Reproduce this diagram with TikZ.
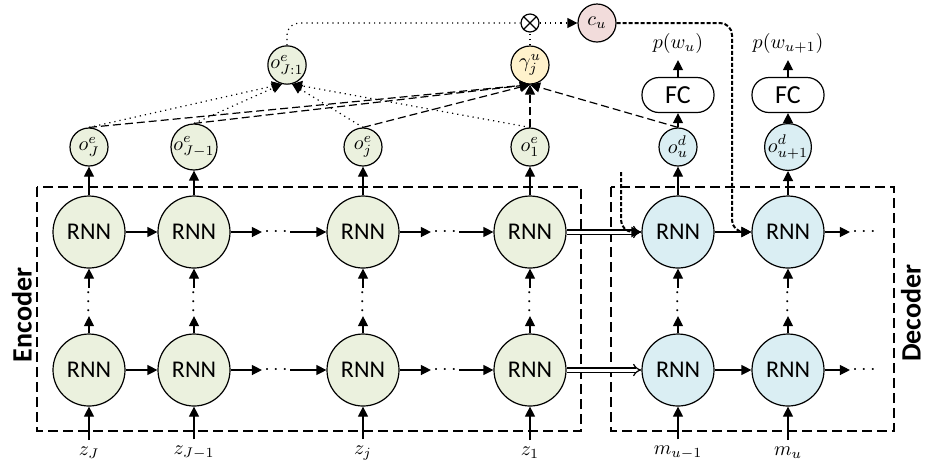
\documentclass[tikz,border=0pt]{standalone}
\usepackage{fontspec}
\setsansfont{Carlito}
\usetikzlibrary{arrows.meta,positioning}

\definecolor{encfill}{HTML}{EBF1DE}
\definecolor{decfill}{HTML}{DAEEF3}
\definecolor{attfill}{HTML}{FFF2CC}
\definecolor{ctxfill}{HTML}{F2DCDB}

\begin{document}
\begin{tikzpicture}[x=0.5pt,y=-0.5pt,
  rnn/.style={circle,draw,semithick,minimum size=36pt,inner sep=0pt,font=\sffamily\fontsize{12}{14}\selectfont},
  outc/.style={circle,draw,semithick,minimum size=19pt,inner sep=0pt},
  fc/.style={draw,semithick,rounded corners=8.5pt,minimum width=36pt,minimum height=17.5pt,font=\sffamily\fontsize{13}{15}\selectfont},
  dots/.style={inner sep=1pt},
  arr/.style={semithick,-{Triangle[length=5pt,width=5pt]}},
  dotarr/.style={arr,dotted},
  dasharr/.style={arr,dash pattern=on 4pt off 2pt},
  ctxarr/.style={line width=1pt,dash pattern=on 2pt off 1pt,rounded corners=6pt,-{Triangle[length=5pt,width=5pt]}},
  dblarr/.style={semithick,double,double distance=1.5pt,-{Implies[scale=1.4]}},
  boxline/.style={semithick,dash pattern=on 5pt off 2.5pt},
  side/.style={rotate=90,font=\sffamily\bfseries\fontsize{14}{16}\selectfont}
]
\useasboundingbox (0,0) rectangle (926,463);

% encoder and decoder frames
\draw[boxline] (37,187) rectangle (581,431);
\draw[boxline] (611,187) rectangle (894,431);
\node[side] (enc) at (22,315) {Encoder};
\node[side] (dec) at (911,313) {Decoder};

% encoder cells
\node[rnn,fill=encfill] (e1t) at (89,232) {RNN};
\node[rnn,fill=encfill] (e2t) at (194,232) {RNN};
\node[rnn,fill=encfill] (e3t) at (363,232) {RNN};
\node[rnn,fill=encfill] (e4t) at (530,232) {RNN};
\node[rnn,fill=encfill] (e1b) at (89,370) {RNN};
\node[rnn,fill=encfill] (e2b) at (194,370) {RNN};
\node[rnn,fill=encfill] (e3b) at (363,370) {RNN};
\node[rnn,fill=encfill] (e4b) at (530,370) {RNN};

% decoder cells
\node[rnn,fill=decfill] (d1t) at (678,232) {RNN};
\node[rnn,fill=decfill] (d2t) at (788,232) {RNN};
\node[rnn,fill=decfill] (d1b) at (678,370) {RNN};
\node[rnn,fill=decfill] (d2b) at (788,370) {RNN};

% dots
\node[dots] (h1t) at (276,232) {$\cdots$};
\node[dots] (h2t) at (445,232) {$\cdots$};
\node[dots] (h3t) at (864,232) {$\cdots$};
\node[dots] (h1b) at (276,370) {$\cdots$};
\node[dots] (h2b) at (445,370) {$\cdots$};
\node[dots] (h3b) at (864,370) {$\cdots$};
\node[dots,rotate=90] (v1) at (89,302) {$\cdots$};
\node[dots,rotate=90] (v2) at (194,302) {$\cdots$};
\node[dots,rotate=90] (v3) at (363,302) {$\cdots$};
\node[dots,rotate=90] (v4) at (530,302) {$\cdots$};
\node[dots,rotate=90] (v5) at (678,302) {$\cdots$};
\node[dots,rotate=90] (v6) at (788,302) {$\cdots$};

% inputs
\node (z1) at (89,453) {$z_J$};
\node (z2) at (194,453) {$z_{J-1}$};
\node (z3) at (363,453) {$z_j$};
\node (z4) at (530,453) {$z_1$};
\node (m1) at (678,453) {$m_{u-1}$};
\node (m2) at (788,453) {$m_u$};

% outputs
\node[outc,fill=encfill] (o1) at (89,147) {$o^e_J$};
\node[outc,fill=encfill] (o2) at (194,147) {$o^e_{J-1}$};
\node[outc,fill=encfill] (o3) at (363,147) {$o^e_j$};
\node[outc,fill=encfill] (o4) at (530,147) {$o^e_1$};
\node[outc,fill=decfill] (o5) at (678,147) {$o^d_u$};
\node[outc,fill=decfill] (o6) at (788,147) {$o^d_{u+1}$};
\node[fc] (fc1) at (678,95) {FC};
\node[fc] (fc2) at (788,95) {FC};
\node (p1) at (678,43) {$p(w_u)$};
\node (p2) at (788,43) {$p(w_{u+1})$};

% attention
\node[outc,fill=encfill] (oall) at (287,65) {$o^e_{J:1}$};
\node[outc,fill=attfill] (gam) at (530,65) {$\gamma^u_j$};
\node[circle,draw,semithick,minimum size=9pt,inner sep=0pt] (mul) at (530,23) {};
\draw[semithick] (mul.45) -- (mul.225) (mul.135) -- (mul.-45);
\node[outc,fill=ctxfill] (cu) at (597,23) {$c_u$};
\coordinate (cin) at (621,172);

% horizontal links
\draw[arr] (e1t) -- (e2t);
\draw[arr] (e2t) -- (h1t);
\draw[arr] (h1t) -- (e3t);
\draw[arr] (e3t) -- (h2t);
\draw[arr] (h2t) -- (e4t);
\draw[arr] (e1b) -- (e2b);
\draw[arr] (e2b) -- (h1b);
\draw[arr] (h1b) -- (e3b);
\draw[arr] (e3b) -- (h2b);
\draw[arr] (h2b) -- (e4b);
\draw[arr] (d1t) -- (d2t);
\draw[arr] (d2t) -- (h3t);
\draw[arr] (d1b) -- (d2b);
\draw[arr] (d2b) -- (h3b);
\draw[dblarr] (e4t) -- (d1t);
\draw[dblarr] (e4b) -- (d1b);

% vertical links
\draw[arr] (e1b) -- (v1); \draw[arr] (v1) -- (e1t);
\draw[arr] (e2b) -- (v2); \draw[arr] (v2) -- (e2t);
\draw[arr] (e3b) -- (v3); \draw[arr] (v3) -- (e3t);
\draw[arr] (e4b) -- (v4); \draw[arr] (v4) -- (e4t);
\draw[arr] (d1b) -- (v5); \draw[arr] (v5) -- (d1t);
\draw[arr] (d2b) -- (v6); \draw[arr] (v6) -- (d2t);
\draw[arr] (z1) -- (e1b);
\draw[arr] (z2) -- (e2b);
\draw[arr] (z3) -- (e3b);
\draw[arr] (z4) -- (e4b);
\draw[arr] (m1) -- (d1b);
\draw[arr] (m2) -- (d2b);
\draw[arr] (e1t) -- (o1);
\draw[arr] (e2t) -- (o2);
\draw[arr] (e3t) -- (o3);
\draw[arr] (e4t) -- (o4);
\draw[arr] (d1t) -- (o5);
\draw[arr] (d2t) -- (o6);
\draw[arr] (o5) -- (fc1);
\draw[arr] (o6) -- (fc2);
\draw[arr] (fc1) -- (p1);
\draw[arr] (fc2) -- (p2);

% attention links
\draw[dotarr] (o1.north) -- (oall.-105);
\draw[dotarr] (o2.north) -- (oall.-105);
\draw[dotarr] (o3.north) -- (oall.-75);
\draw[dotarr] (o4.north) -- (oall.-75);
\draw[dasharr] (o1.north) -- (gam.south);
\draw[dasharr] (o2.north) -- (gam.south);
\draw[dasharr] (o3.north) -- (gam.south);
\draw[dasharr] (o4.north) -- (gam.south);
\draw[dasharr] (o5.north) -- (gam.south);
\draw[dotted,semithick,rounded corners=6pt] (oall.north) |- (mul.west);
\draw[dotted,semithick] (gam.north) -- (mul.south);
\draw[dotarr] (mul.east) -- (cu.west);
\draw[ctxarr] (cu.east) -| (732,200) |- (d2t.west);
\draw[ctxarr] (cin) |- (d1t.west);
\end{tikzpicture}
\end{document}
